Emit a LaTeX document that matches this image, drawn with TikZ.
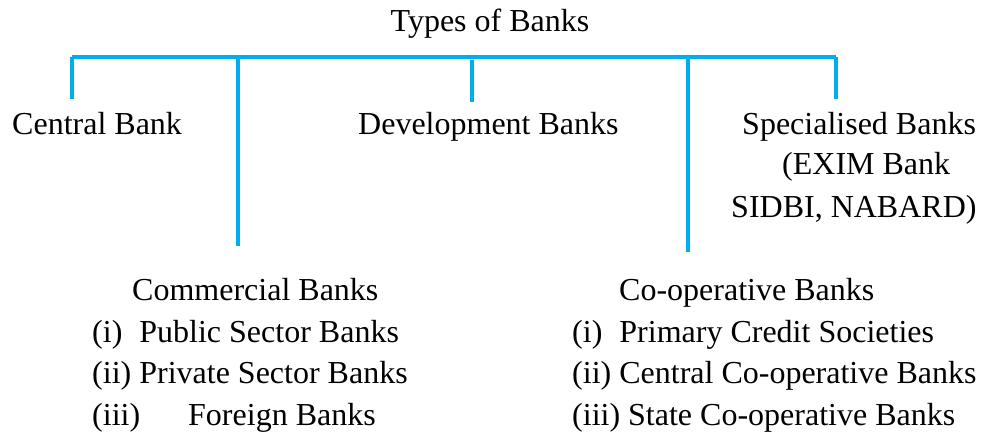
\documentclass[tikz,border=0pt]{standalone}
\usepackage{fontspec}
\setmainfont{Liberation Serif}
\definecolor{branchcyan}{RGB}{0,174,239}

\begin{document}
\begin{tikzpicture}[
      x=1pt,y=-1pt,
      banktext/.style={inner sep=0,anchor=base west,font=\fontsize{32}{38}\selectfont},
      branch/.style={draw=branchcyan,line width=3.2pt},
    ]
    \useasboundingbox (0,0) rectangle (988,433);
    % heading and first row
    \node[banktext,anchor=base] (types) at (490,32) {Types of Banks};
    \node[banktext] (central) at (12,135) {Central Bank};
    \node[banktext] (development) at (358,135) {Development Banks};
    \node[banktext] (specialised) at (742,135) {Specialised Banks};
    \node[banktext] (exim) at (782,175) {(EXIM Bank};
    \node[banktext] (sidbi) at (731,217) {SIDBI, NABARD)};
    % lower row
    \node[banktext] (commercial) at (132,300) {Commercial Banks};
    \node[banktext] (public) at (92,342) {(i)\hspace{17pt}Public Sector Banks};
    \node[banktext] (private) at (92,383) {(ii) Private Sector Banks};
    \node[banktext] (foreign) at (92,425) {(iii)\hspace{48pt}Foreign Banks};
    \node[banktext] (cooperative) at (619,300) {Co-operative Banks};
    \node[banktext] (primary) at (572,342) {(i)\hspace{17pt}Primary Credit Societies};
    \node[banktext] (centralcoop) at (572,383) {(ii) Central Co-operative Banks};
    \node[banktext] (statecoop) at (572,425) {(iii) State Co-operative Banks};
    % branch points
    \coordinate (bar central) at (72,57);
    \coordinate (bar commercial) at (238,57);
    \coordinate (bar development) at (472,60);
    \coordinate (bar cooperative) at (688,55);
    \coordinate (bar specialised) at (836,57);
    \coordinate (end central) at (72,99);
    \coordinate (end commercial) at (238,246);
    \coordinate (end development) at (472,102);
    \coordinate (end cooperative) at (688,252);
    \coordinate (end specialised) at (836,99);
    \draw[branch] (bar central) -- (bar specialised);
    \draw[branch] (bar central) -- (end central);
    \draw[branch] (bar commercial) -- (end commercial);
    \draw[branch] (bar development) -- (end development);
    \draw[branch] (bar cooperative) -- (end cooperative);
    \draw[branch] (bar specialised) -- (end specialised);
  \end{tikzpicture}
\end{document}
